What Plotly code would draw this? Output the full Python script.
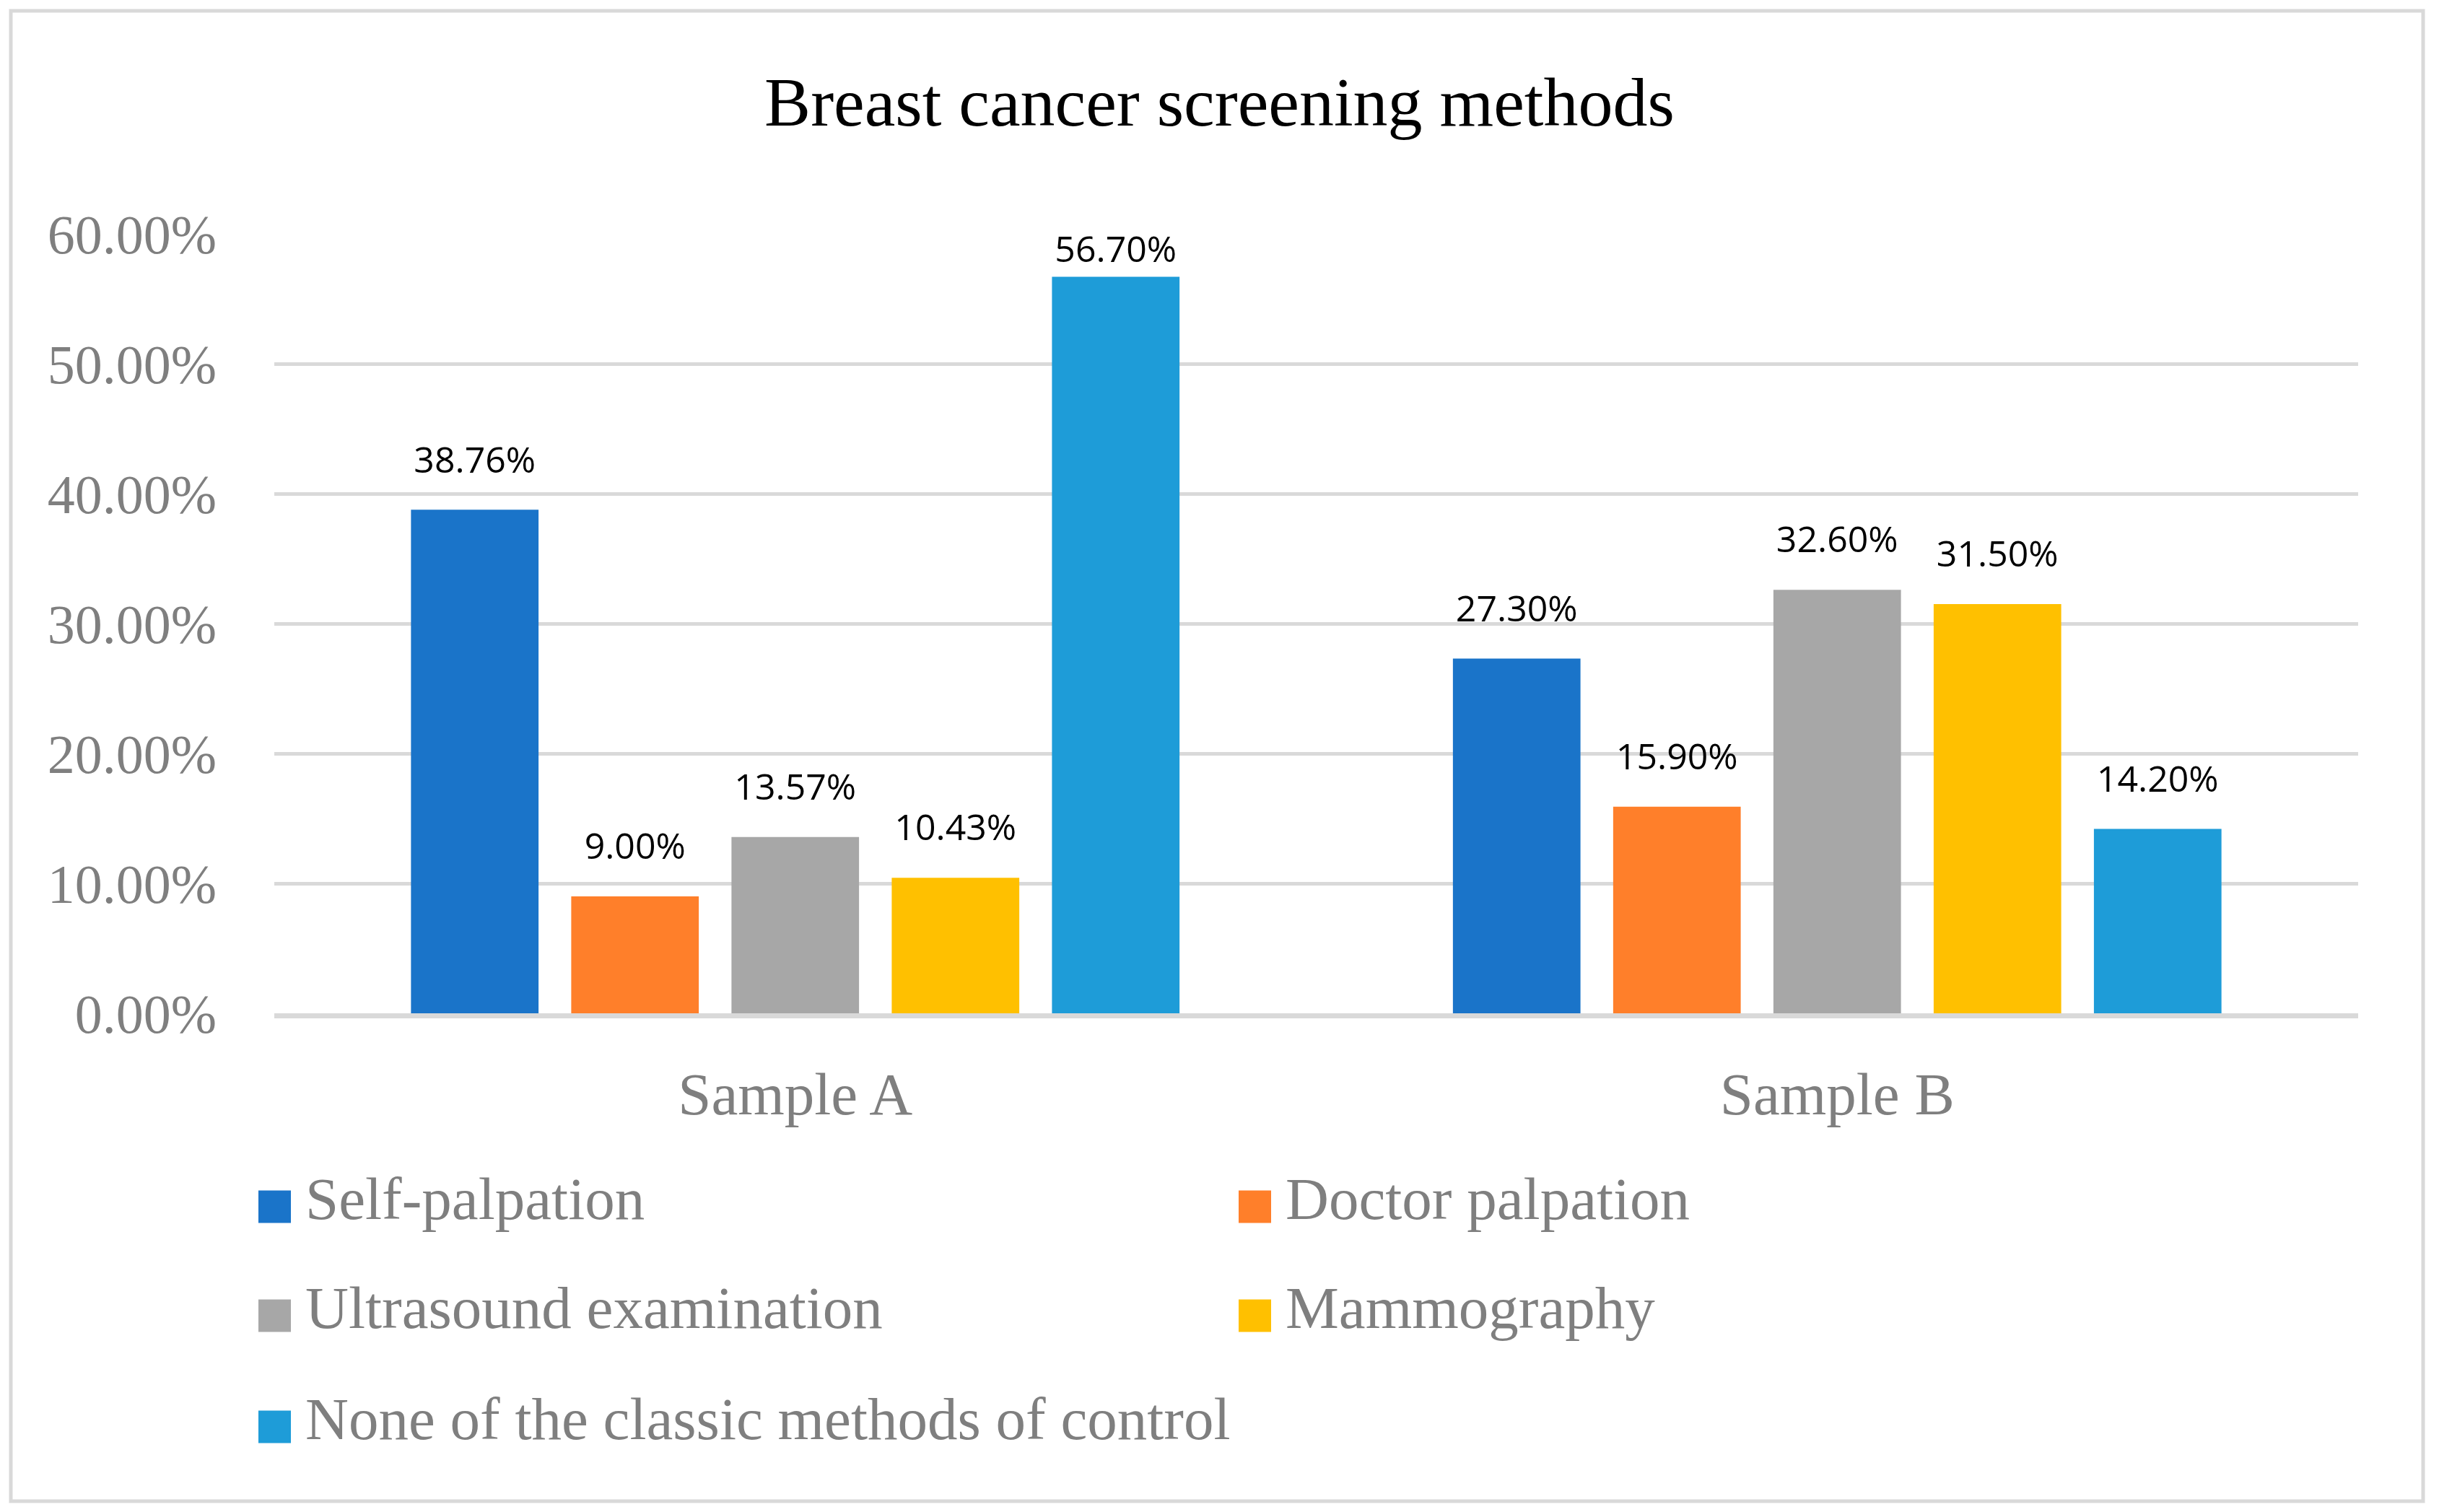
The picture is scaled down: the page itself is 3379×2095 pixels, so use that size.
import plotly.graph_objects as go

# ---- data ----
categories = ["Sample A", "Sample B"]
series_names = ["Self-palpation", "Doctor palpation", "Ultrasound examination",
                "Mammography", "None of the classic methods of control"]
self_palpation = [0.3876, 0.2730]
doctor_palpation = [0.0900, 0.1590]
ultrasound = [0.1357, 0.3260]
mammography = [0.1043, 0.3150]
none_classic = [0.5670, 0.1420]
series_values = [self_palpation, doctor_palpation, ultrasound, mammography, none_classic]
colors = ["#1A74C9", "#FF7F2A", "#A7A7A7", "#FFC000", "#1E9CD8"]
y_ticks = [0, 0.1, 0.2, 0.3, 0.4, 0.5, 0.6]
y_max = 0.6

# ---- geometry (figure pixels) ----
W, H = 3363, 2079
L, R, T, B = 372, 104, 316, 683
PW, PH = W - L - R, H - T - B

def px_x(x):
    return (x - L) / PW

def px_y(y):
    return (H - B - y) / PH

SERIF = "Liberation Serif"
GRAY_TXT = "#7F7F7F"
GRID = "#D9D9D9"

LABEL_TMPL = "<span style='font-size:50px'>%{y:.2%}</span><br><span style='font-size:6px'>&nbsp;</span>"

fig = go.Figure()
for name, vals, col in zip(series_names, series_values, colors):
    # labels near the top of the plot area are pulled closer to the bar (kept inside the area)
    sizes = [36 if v < y_max - 0.05 else 12 for v in vals]
    fig.add_trace(go.Bar(
        x=categories, y=vals, name=name, marker=dict(color=col, line=dict(width=0)),
        texttemplate=LABEL_TMPL,
        textposition="outside", constraintext="none", cliponaxis=False,
        textfont=dict(family="Open Sans", size=sizes, color="black"),
        showlegend=False, hoverinfo="skip",
    ))

# manual legend: big square swatches + text
legend_cols = [350, 1708]
legend_rows = [1664, 1815, 1969]
sq = 45
shapes = []
annotations = []
for i, (name, col) in enumerate(zip(series_names, colors)):
    cx = legend_cols[i % 2]
    cy = legend_rows[i // 2]
    shapes.append(dict(type="rect", xref="paper", yref="paper",
                       x0=px_x(cx), x1=px_x(cx + sq),
                       y0=px_y(cy + sq / 2), y1=px_y(cy - sq / 2),
                       fillcolor=col, line=dict(width=0), layer="above"))
    annotations.append(dict(xref="paper", yref="paper", x=px_x(cx + sq + 18), y=px_y(cy - 11),
                            xanchor="left", yanchor="middle", showarrow=False,
                            text=name, font=dict(family=SERIF, size=83, color=GRAY_TXT)))

# outer border
shapes.append(dict(type="rect", xref="paper", yref="paper",
                   x0=px_x(7), x1=px_x(3349), y0=px_y(2072), y1=px_y(7),
                   line=dict(color=GRID, width=5), fillcolor="rgba(0,0,0,0)", layer="below"))

fig.update_layout(
    width=W, height=H,
    margin=dict(l=L, r=R, t=T, b=B),
    paper_bgcolor="white", plot_bgcolor="white",
    barmode="group", bargap=0.231, bargroupgap=0.204,
    title=dict(text="Breast cancer screening methods", x=0.5, xref="container",
               y=1 - 132 / H, yref="container", xanchor="center", yanchor="middle",
               font=dict(family=SERIF, size=96, color="black")),
    xaxis=dict(showline=True, linecolor=GRID, linewidth=7, ticks="",
               tickfont=dict(family=SERIF, size=83, color=GRAY_TXT),
               ticklabelstandoff=33),
    yaxis=dict(range=[0, y_max], tickvals=y_ticks, tickformat=".2%",
               showgrid=True, gridcolor=GRID, gridwidth=5, zeroline=False,
               showline=False, ticks="",
               tickfont=dict(family=SERIF, size=76, color=GRAY_TXT),
               ticklabelstandoff=79),
    shapes=shapes, annotations=annotations,
    showlegend=False,
)

fig.write_html("out.html")
